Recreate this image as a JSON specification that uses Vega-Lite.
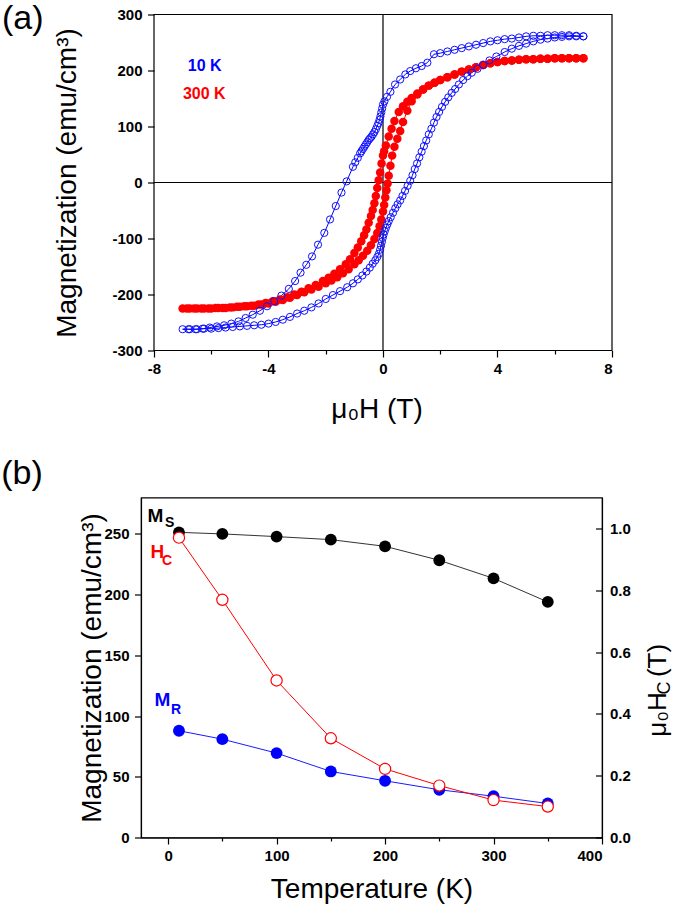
{
  "$schema": "https://vega.github.io/schema/vega-lite/v6.json",
  "padding": {"left": 0, "top": 1.5, "right": 0, "bottom": 0},
  "background": "white",
  "config": {
    "font": "Liberation Sans",
    "view": {"stroke": "black", "strokeWidth": 1.2},
    "axis": {
      "grid": false,
      "domainColor": "black",
      "domainWidth": 1.2,
      "tickColor": "black",
      "tickWidth": 1.2,
      "labelColor": "black",
      "labelFont": "Liberation Sans",
      "labelFontWeight": "bold",
      "labelFontSize": 15,
      "titleFont": "Liberation Sans",
      "titleFontWeight": "normal",
      "titleFontSize": 28,
      "titleColor": "black"
    }
  },
  "datasets": {
    "loop": [
      {"s":"300 K","H":7.0,"M":222},{"s":"300 K","H":6.75,"M":222},{"s":"300 K","H":6.5,"M":222},{"s":"300 K","H":6.25,"M":222},{"s":"300 K","H":6.0,"M":222},{"s":"300 K","H":5.75,"M":221},{"s":"300 K","H":5.5,"M":221},{"s":"300 K","H":5.25,"M":220},{"s":"300 K","H":5.0,"M":220},{"s":"300 K","H":4.75,"M":219},{"s":"300 K","H":4.5,"M":218},{"s":"300 K","H":4.25,"M":217},{"s":"300 K","H":4.0,"M":215},{"s":"300 K","H":3.75,"M":213},{"s":"300 K","H":3.5,"M":210},{"s":"300 K","H":3.25,"M":206},{"s":"300 K","H":3.0,"M":202},{"s":"300 K","H":2.75,"M":198},{"s":"300 K","H":2.5,"M":193},{"s":"300 K","H":2.25,"M":188},{"s":"300 K","H":2.0,"M":183},{"s":"300 K","H":1.8,"M":178},{"s":"300 K","H":1.6,"M":173},{"s":"300 K","H":1.4,"M":166},{"s":"300 K","H":1.2,"M":159},{"s":"300 K","H":1.0,"M":151},{"s":"300 K","H":0.85,"M":144},{"s":"300 K","H":0.7,"M":136},{"s":"300 K","H":0.55,"M":126},{"s":"300 K","H":0.4,"M":110},{"s":"300 K","H":0.3,"M":96},{"s":"300 K","H":0.2,"M":82},{"s":"300 K","H":0.1,"M":66},{"s":"300 K","H":0.04,"M":56},{"s":"300 K","H":0.0,"M":48},{"s":"300 K","H":-0.05,"M":34},{"s":"300 K","H":-0.1,"M":18},{"s":"300 K","H":-0.15,"M":4},{"s":"300 K","H":-0.2,"M":-10},{"s":"300 K","H":-0.25,"M":-24},{"s":"300 K","H":-0.3,"M":-37},{"s":"300 K","H":-0.36,"M":-49},{"s":"300 K","H":-0.42,"M":-60},{"s":"300 K","H":-0.5,"M":-72},{"s":"300 K","H":-0.58,"M":-84},{"s":"300 K","H":-0.66,"M":-94},{"s":"300 K","H":-0.76,"M":-105},{"s":"300 K","H":-0.88,"M":-116},{"s":"300 K","H":-1.0,"M":-126},{"s":"300 K","H":-1.15,"M":-137},{"s":"300 K","H":-1.3,"M":-146},{"s":"300 K","H":-1.5,"M":-155},{"s":"300 K","H":-1.7,"M":-163},{"s":"300 K","H":-1.9,"M":-170},{"s":"300 K","H":-2.1,"M":-176},{"s":"300 K","H":-2.35,"M":-183},{"s":"300 K","H":-2.6,"M":-189},{"s":"300 K","H":-2.85,"M":-195},{"s":"300 K","H":-3.1,"M":-200},{"s":"300 K","H":-3.35,"M":-205},{"s":"300 K","H":-3.6,"M":-209},{"s":"300 K","H":-3.85,"M":-212},{"s":"300 K","H":-4.1,"M":-215},{"s":"300 K","H":-4.35,"M":-218},{"s":"300 K","H":-4.6,"M":-220},{"s":"300 K","H":-4.85,"M":-221},{"s":"300 K","H":-5.1,"M":-222},{"s":"300 K","H":-5.35,"M":-223},{"s":"300 K","H":-5.6,"M":-224},{"s":"300 K","H":-5.85,"M":-224},{"s":"300 K","H":-6.1,"M":-225},{"s":"300 K","H":-6.35,"M":-225},{"s":"300 K","H":-6.6,"M":-225},{"s":"300 K","H":-6.85,"M":-225},{"s":"300 K","H":-7.0,"M":-225},
      {"s":"300 K","H":-6.75,"M":-225},{"s":"300 K","H":-6.5,"M":-225},{"s":"300 K","H":-6.25,"M":-225},{"s":"300 K","H":-6.0,"M":-225},{"s":"300 K","H":-5.75,"M":-224},{"s":"300 K","H":-5.5,"M":-224},{"s":"300 K","H":-5.25,"M":-223},{"s":"300 K","H":-5.0,"M":-222},{"s":"300 K","H":-4.75,"M":-221},{"s":"300 K","H":-4.5,"M":-220},{"s":"300 K","H":-4.25,"M":-218},{"s":"300 K","H":-4.0,"M":-216},{"s":"300 K","H":-3.75,"M":-213},{"s":"300 K","H":-3.5,"M":-210},{"s":"300 K","H":-3.25,"M":-206},{"s":"300 K","H":-3.0,"M":-201},{"s":"300 K","H":-2.75,"M":-196},{"s":"300 K","H":-2.5,"M":-191},{"s":"300 K","H":-2.25,"M":-186},{"s":"300 K","H":-2.0,"M":-180},{"s":"300 K","H":-1.8,"M":-175},{"s":"300 K","H":-1.6,"M":-169},{"s":"300 K","H":-1.4,"M":-162},{"s":"300 K","H":-1.2,"M":-155},{"s":"300 K","H":-1.0,"M":-146},{"s":"300 K","H":-0.85,"M":-139},{"s":"300 K","H":-0.7,"M":-131},{"s":"300 K","H":-0.55,"M":-122},{"s":"300 K","H":-0.42,"M":-112},{"s":"300 K","H":-0.3,"M":-101},{"s":"300 K","H":-0.2,"M":-90},{"s":"300 K","H":-0.12,"M":-78},{"s":"300 K","H":-0.06,"M":-66},{"s":"300 K","H":0.0,"M":-52},{"s":"300 K","H":0.04,"M":-40},{"s":"300 K","H":0.08,"M":-27},{"s":"300 K","H":0.12,"M":-14},{"s":"300 K","H":0.16,"M":-2},{"s":"300 K","H":0.2,"M":12},{"s":"300 K","H":0.26,"M":30},{"s":"300 K","H":0.32,"M":48},{"s":"300 K","H":0.4,"M":64},{"s":"300 K","H":0.5,"M":78},{"s":"300 K","H":0.6,"M":92},{"s":"300 K","H":0.7,"M":108},{"s":"300 K","H":0.85,"M":128},{"s":"300 K","H":1.0,"M":145},{"s":"300 K","H":1.2,"M":157},{"s":"300 K","H":1.4,"M":166},{"s":"300 K","H":1.6,"M":173},{"s":"300 K","H":1.8,"M":178},{"s":"300 K","H":2.0,"M":183},{"s":"300 K","H":2.25,"M":188},{"s":"300 K","H":2.5,"M":193},{"s":"300 K","H":2.75,"M":198},{"s":"300 K","H":3.0,"M":202},{"s":"300 K","H":3.25,"M":206},{"s":"300 K","H":3.5,"M":210},{"s":"300 K","H":3.75,"M":213},{"s":"300 K","H":4.0,"M":215},{"s":"300 K","H":4.25,"M":217},{"s":"300 K","H":4.5,"M":218},{"s":"300 K","H":4.75,"M":219},{"s":"300 K","H":5.0,"M":220},{"s":"300 K","H":5.25,"M":220},{"s":"300 K","H":5.5,"M":221},{"s":"300 K","H":5.75,"M":221},{"s":"300 K","H":6.0,"M":222},{"s":"300 K","H":6.25,"M":222},{"s":"300 K","H":6.5,"M":222},{"s":"300 K","H":6.75,"M":222},{"s":"300 K","H":7.0,"M":222},
      {"s":"10 K","H":7.0,"M":261},{"s":"10 K","H":6.75,"M":262},{"s":"10 K","H":6.5,"M":263},{"s":"10 K","H":6.25,"M":263},{"s":"10 K","H":6.0,"M":263},{"s":"10 K","H":5.75,"M":263},{"s":"10 K","H":5.5,"M":262},{"s":"10 K","H":5.25,"M":262},{"s":"10 K","H":5.0,"M":261},{"s":"10 K","H":4.75,"M":259},{"s":"10 K","H":4.5,"M":257},{"s":"10 K","H":4.25,"M":256},{"s":"10 K","H":4.0,"M":254},{"s":"10 K","H":3.75,"M":252},{"s":"10 K","H":3.5,"M":249},{"s":"10 K","H":3.25,"M":246},{"s":"10 K","H":3.0,"M":243},{"s":"10 K","H":2.75,"M":240},{"s":"10 K","H":2.5,"M":237},{"s":"10 K","H":2.25,"M":234},{"s":"10 K","H":2.0,"M":231},{"s":"10 K","H":1.78,"M":229},{"s":"10 K","H":1.55,"M":214},{"s":"10 K","H":1.35,"M":208},{"s":"10 K","H":1.15,"M":204},{"s":"10 K","H":0.95,"M":199},{"s":"10 K","H":0.78,"M":193},{"s":"10 K","H":0.6,"M":184},{"s":"10 K","H":0.42,"M":175},{"s":"10 K","H":0.26,"M":162},{"s":"10 K","H":0.14,"M":153},{"s":"10 K","H":0.05,"M":145},{"s":"10 K","H":0.0,"M":139},{"s":"10 K","H":-0.03,"M":132},{"s":"10 K","H":-0.06,"M":125},{"s":"10 K","H":-0.09,"M":118},{"s":"10 K","H":-0.12,"M":112},{"s":"10 K","H":-0.16,"M":106},{"s":"10 K","H":-0.2,"M":101},{"s":"10 K","H":-0.25,"M":95},{"s":"10 K","H":-0.3,"M":90},{"s":"10 K","H":-0.35,"M":86},{"s":"10 K","H":-0.4,"M":82},{"s":"10 K","H":-0.45,"M":79},{"s":"10 K","H":-0.5,"M":76},{"s":"10 K","H":-0.55,"M":72},{"s":"10 K","H":-0.6,"M":68},{"s":"10 K","H":-0.65,"M":64},{"s":"10 K","H":-0.7,"M":60},{"s":"10 K","H":-0.75,"M":56},{"s":"10 K","H":-0.8,"M":52},{"s":"10 K","H":-0.88,"M":44},{"s":"10 K","H":-0.97,"M":36},{"s":"10 K","H":-1.05,"M":28},{"s":"10 K","H":-1.27,"M":2},{"s":"10 K","H":-1.45,"M":-18},{"s":"10 K","H":-1.65,"M":-42},{"s":"10 K","H":-1.85,"M":-66},{"s":"10 K","H":-2.05,"M":-90},{"s":"10 K","H":-2.27,"M":-111},{"s":"10 K","H":-2.48,"M":-132},{"s":"10 K","H":-2.68,"M":-147},{"s":"10 K","H":-2.88,"M":-161},{"s":"10 K","H":-3.07,"M":-176},{"s":"10 K","H":-3.29,"M":-190},{"s":"10 K","H":-3.55,"M":-202},{"s":"10 K","H":-3.8,"M":-212},{"s":"10 K","H":-4.05,"M":-221},{"s":"10 K","H":-4.3,"M":-229},{"s":"10 K","H":-4.55,"M":-236},{"s":"10 K","H":-4.8,"M":-242},{"s":"10 K","H":-5.05,"M":-248},{"s":"10 K","H":-5.3,"M":-252},{"s":"10 K","H":-5.55,"M":-255},{"s":"10 K","H":-5.8,"M":-257},{"s":"10 K","H":-6.05,"M":-259},{"s":"10 K","H":-6.3,"M":-261},{"s":"10 K","H":-6.55,"M":-262},{"s":"10 K","H":-6.8,"M":-262},{"s":"10 K","H":-7.0,"M":-262},
      {"s":"10 K","H":-6.75,"M":-262},{"s":"10 K","H":-6.5,"M":-262},{"s":"10 K","H":-6.25,"M":-261},{"s":"10 K","H":-6.0,"M":-261},{"s":"10 K","H":-5.75,"M":-260},{"s":"10 K","H":-5.5,"M":-259},{"s":"10 K","H":-5.25,"M":-258},{"s":"10 K","H":-5.0,"M":-257},{"s":"10 K","H":-4.75,"M":-256},{"s":"10 K","H":-4.5,"M":-255},{"s":"10 K","H":-4.25,"M":-254},{"s":"10 K","H":-4.0,"M":-252},{"s":"10 K","H":-3.75,"M":-249},{"s":"10 K","H":-3.5,"M":-245},{"s":"10 K","H":-3.25,"M":-240},{"s":"10 K","H":-3.0,"M":-234},{"s":"10 K","H":-2.75,"M":-229},{"s":"10 K","H":-2.5,"M":-223},{"s":"10 K","H":-2.25,"M":-216},{"s":"10 K","H":-2.0,"M":-208},{"s":"10 K","H":-1.75,"M":-201},{"s":"10 K","H":-1.5,"M":-194},{"s":"10 K","H":-1.25,"M":-187},{"s":"10 K","H":-1.05,"M":-180},{"s":"10 K","H":-0.88,"M":-173},{"s":"10 K","H":-0.72,"M":-166},{"s":"10 K","H":-0.58,"M":-159},{"s":"10 K","H":-0.46,"M":-152},{"s":"10 K","H":-0.36,"M":-145},{"s":"10 K","H":-0.27,"M":-139},{"s":"10 K","H":-0.2,"M":-133},{"s":"10 K","H":-0.14,"M":-127},{"s":"10 K","H":-0.1,"M":-120},{"s":"10 K","H":-0.07,"M":-113},{"s":"10 K","H":-0.04,"M":-106},{"s":"10 K","H":-0.01,"M":-99},{"s":"10 K","H":0.02,"M":-93},{"s":"10 K","H":0.06,"M":-87},{"s":"10 K","H":0.1,"M":-81},{"s":"10 K","H":0.15,"M":-75},{"s":"10 K","H":0.2,"M":-69},{"s":"10 K","H":0.27,"M":-62},{"s":"10 K","H":0.35,"M":-54},{"s":"10 K","H":0.43,"M":-46},{"s":"10 K","H":0.51,"M":-39},{"s":"10 K","H":0.6,"M":-32},{"s":"10 K","H":0.68,"M":-24},{"s":"10 K","H":0.77,"M":-15},{"s":"10 K","H":0.86,"M":-6},{"s":"10 K","H":0.95,"M":3},{"s":"10 K","H":1.03,"M":13},{"s":"10 K","H":1.11,"M":24},{"s":"10 K","H":1.19,"M":34},{"s":"10 K","H":1.27,"M":45},{"s":"10 K","H":1.35,"M":55},{"s":"10 K","H":1.43,"M":65},{"s":"10 K","H":1.51,"M":75},{"s":"10 K","H":1.6,"M":86},{"s":"10 K","H":1.69,"M":96},{"s":"10 K","H":1.78,"M":107},{"s":"10 K","H":1.87,"M":117},{"s":"10 K","H":1.96,"M":126},{"s":"10 K","H":2.06,"M":135},{"s":"10 K","H":2.17,"M":144},{"s":"10 K","H":2.28,"M":152},{"s":"10 K","H":2.4,"M":160},{"s":"10 K","H":2.52,"M":167},{"s":"10 K","H":2.65,"M":175},{"s":"10 K","H":2.8,"M":183},{"s":"10 K","H":2.95,"M":190},{"s":"10 K","H":3.1,"M":196},{"s":"10 K","H":3.3,"M":203},{"s":"10 K","H":3.5,"M":210},{"s":"10 K","H":3.72,"M":218},{"s":"10 K","H":3.96,"M":225},{"s":"10 K","H":4.25,"M":233},{"s":"10 K","H":4.5,"M":239},{"s":"10 K","H":4.75,"M":244},{"s":"10 K","H":5.0,"M":248},{"s":"10 K","H":5.25,"M":252},{"s":"10 K","H":5.5,"M":255},{"s":"10 K","H":5.75,"M":257},{"s":"10 K","H":6.0,"M":259},{"s":"10 K","H":6.25,"M":260},{"s":"10 K","H":6.5,"M":261},{"s":"10 K","H":6.75,"M":261},{"s":"10 K","H":7.0,"M":261}
    ],
    "temp": [
      {"T":10,"Ms":251.3,"Mr":87.9,"Hc":0.970},
      {"T":50,"Ms":250.0,"Mr":81.0,"Hc":0.769},
      {"T":100,"Ms":247.8,"Mr":69.5,"Hc":0.508},
      {"T":150,"Ms":245.3,"Mr":54.4,"Hc":0.321},
      {"T":200,"Ms":239.8,"Mr":46.7,"Hc":0.222},
      {"T":250,"Ms":228.3,"Mr":39.3,"Hc":0.168},
      {"T":300,"Ms":213.4,"Mr":34.0,"Hc":0.121},
      {"T":350,"Ms":194.0,"Mr":28.0,"Hc":0.100}
    ]
  },
  "resolve": {"scale": {"color": "independent"}},
  "concat": [
    {
      "width": 471,
      "height": 336,
      "view": {"stroke": null},
      "layer": [
        {
          "data": {"values": [{"H": 0}]},
          "mark": {"type": "rule", "color": "black", "strokeWidth": 1.2},
          "encoding": {
            "x": {"field": "H", "type": "quantitative", "scale": {"domain": [-8.454, 8], "nice": false},
              "title": "μ₀H (T)",
              "axis": {"values": [-8,-6,-4,-2,0,2,4,6,8], "domain": false, "labelExpr": "datum.value % 4 === 0 ? '' + datum.value : ''",
                "tickSize": {"condition": {"test": "datum.value % 4 !== 0", "value": 3.5}, "value": 6.5},
                "labelPadding": 4, "titlePadding": 19}}
          }
        },
        {
          "data": {"values": [{"M": 0, "Ha": -8, "Hb": 8}]},
          "mark": {"type": "rule", "color": "black", "strokeWidth": 1.2},
          "encoding": {
            "x": {"field": "Ha", "type": "quantitative", "scale": {"domain": [-8.454, 8], "nice": false}, "title": "μ₀H (T)"},
            "x2": {"field": "Hb"},
            "y": {"field": "M", "type": "quantitative", "scale": {"domain": [-300, 300], "nice": false},
              "title": "Magnetization (emu/cm³)",
              "axis": {"values": [-300,-250,-200,-150,-100,-50,0,50,100,150,200,250,300], "domain": false, "offset": -13, "labelExpr": "datum.value % 100 === 0 ? '' + datum.value : ''",
                "tickSize": {"condition": {"test": "datum.value % 100 !== 0", "value": 3.5}, "value": 6.5},
                "labelPadding": 5.5, "titlePadding": 30}}
          }
        },
        {
          "data": {"name": "loop"},
          "mark": {"type": "line", "strokeWidth": 1},
          "encoding": {
            "x": {"field": "H", "type": "quantitative", "scale": {"domain": [-8.454, 8], "nice": false}, "title": "μ₀H (T)"},
            "y": {"field": "M", "type": "quantitative", "scale": {"domain": [-300, 300], "nice": false}, "title": "Magnetization (emu/cm³)"},
            "color": {"field": "s", "type": "nominal", "scale": {"domain": ["10 K", "300 K"], "range": ["#0000ff", "#ff0000"]}, "legend": null},
            "order": {"value": null}
          }
        },
        {
          "data": {"name": "loop"},
          "transform": [{"filter": "datum.s === '300 K'"}],
          "mark": {"type": "point", "shape": "circle", "filled": true, "size": 72, "color": "#ff0000", "opacity": 1},
          "encoding": {
            "x": {"field": "H", "type": "quantitative", "scale": {"domain": [-8.454, 8], "nice": false}, "title": "μ₀H (T)"},
            "y": {"field": "M", "type": "quantitative", "scale": {"domain": [-300, 300], "nice": false}, "title": "Magnetization (emu/cm³)"}
          }
        },
        {
          "data": {"name": "loop"},
          "transform": [{"filter": "datum.s === '10 K'"}],
          "mark": {"type": "point", "shape": "circle", "filled": false, "size": 52, "color": "#1010ff", "strokeWidth": 1, "opacity": 1},
          "encoding": {
            "x": {"field": "H", "type": "quantitative", "scale": {"domain": [-8.454, 8], "nice": false}, "title": "μ₀H (T)"},
            "y": {"field": "M", "type": "quantitative", "scale": {"domain": [-300, 300], "nice": false}, "title": "Magnetization (emu/cm³)"}
          }
        },
        {
          "data": {"values": [{"lab": "10 K", "H": -6.82, "M": 200}, {"lab": "300 K", "H": -6.99, "M": 149}]},
          "mark": {"type": "text", "fontWeight": "bold", "fontSize": 16, "align": "left", "baseline": "alphabetic"},
          "encoding": {
            "x": {"field": "H", "type": "quantitative", "scale": {"domain": [-8.454, 8], "nice": false}, "title": "μ₀H (T)"},
            "y": {"field": "M", "type": "quantitative", "scale": {"domain": [-300, 300], "nice": false}, "title": "Magnetization (emu/cm³)"},
            "text": {"field": "lab"},
            "color": {"field": "lab", "type": "nominal", "scale": {"domain": ["10 K", "300 K"], "range": ["#0000ff", "#ff0000"]}, "legend": null}
          }
        },
        {
          "data": {"values": [{"lab": "(a)", "H": -13.31, "M": 274}]},
          "mark": {"type": "text", "fontSize": 34, "align": "left", "baseline": "alphabetic", "color": "black", "font": "Liberation Sans"},
          "encoding": {
            "x": {"field": "H", "type": "quantitative", "scale": {"domain": [-8.454, 8], "nice": false}, "title": "μ₀H (T)"},
            "y": {"field": "M", "type": "quantitative", "scale": {"domain": [-300, 300], "nice": false}, "title": "Magnetization (emu/cm³)"},
            "text": {"field": "lab"}
          }
        },
        {
          "data": {"values": [{"Ha": -8, "Hb": 8, "Ma": -300, "Mb": 300}]},
          "mark": {"type": "rect", "filled": false, "color": "black", "strokeWidth": 1.2},
          "encoding": {
            "x": {"field": "Ha", "type": "quantitative", "scale": {"domain": [-8.454, 8], "nice": false}, "title": "μ₀H (T)"},
            "x2": {"field": "Hb"},
            "y": {"field": "Ma", "type": "quantitative", "scale": {"domain": [-300, 300], "nice": false}, "title": "Magnetization (emu/cm³)"},
            "y2": {"field": "Mb"}
          }
        }
      ]
    },
    {
      "width": 461,
      "height": 340,
      "resolve": {"scale": {"y": "independent"}, "axis": {"y": "independent"}},
      "layer": [
        {
          "layer": [
            {
              "data": {"name": "temp"},
              "mark": {"type": "line", "color": "#333333", "strokeWidth": 1},
              "encoding": {
                "x": {"field": "T", "type": "quantitative", "scale": {"domain": [-25, 400], "nice": false}, "title": "Temperature (K)",
                  "axis": {"values": [0,50,100,150,200,250,300,350,400], "labelExpr": "datum.value % 100 === 0 ? '' + datum.value : ''",
                    "tickSize": {"condition": {"test": "datum.value % 100 !== 0", "value": 3.5}, "value": 6.5},
                    "labelPadding": 4, "titlePadding": 12}},
                "y": {"field": "Ms", "type": "quantitative", "scale": {"domain": [0, 280], "nice": false}, "title": "Magnetization (emu/cm³)",
                  "axis": {"values": [0,25,50,75,100,125,150,175,200,225,250,275], "labelExpr": "datum.value % 50 === 0 ? '' + datum.value : ''",
                    "tickSize": {"condition": {"test": "datum.value % 50 !== 0", "value": 3.5}, "value": 6.5},
                    "labelPadding": 5.5, "titlePadding": -3}}
              }
            },
            {
              "data": {"name": "temp"},
              "mark": {"type": "line", "color": "#1a1aff", "strokeWidth": 1},
              "encoding": {
                "x": {"field": "T", "type": "quantitative", "scale": {"domain": [-25, 400], "nice": false}, "title": "Temperature (K)"},
                "y": {"field": "Mr", "type": "quantitative", "scale": {"domain": [0, 280], "nice": false}, "title": "Magnetization (emu/cm³)"}
              }
            },
            {
              "data": {"name": "temp"},
              "mark": {"type": "point", "shape": "circle", "filled": true, "size": 140, "color": "black", "opacity": 1},
              "encoding": {
                "x": {"field": "T", "type": "quantitative", "scale": {"domain": [-25, 400], "nice": false}, "title": "Temperature (K)"},
                "y": {"field": "Ms", "type": "quantitative", "scale": {"domain": [0, 280], "nice": false}, "title": "Magnetization (emu/cm³)"}
              }
            },
            {
              "data": {"name": "temp"},
              "mark": {"type": "point", "shape": "circle", "filled": true, "size": 140, "color": "#0000ff", "opacity": 1},
              "encoding": {
                "x": {"field": "T", "type": "quantitative", "scale": {"domain": [-25, 400], "nice": false}, "title": "Temperature (K)"},
                "y": {"field": "Mr", "type": "quantitative", "scale": {"domain": [0, 280], "nice": false}, "title": "Magnetization (emu/cm³)"}
              }
            },
            {
              "data": {"values": [{"t": "M", "T": -19.1, "v": 260.1, "c": "MS"}, {"t": "H", "T": -16.3, "v": 230.5, "c": "HC"}, {"t": "M", "T": -12.6, "v": 108.5, "c": "MR"}]},
              "mark": {"type": "text", "fontWeight": "bold", "fontSize": 19, "align": "left", "baseline": "alphabetic"},
              "encoding": {
                "x": {"field": "T", "type": "quantitative", "scale": {"domain": [-25, 400], "nice": false}, "title": "Temperature (K)"},
                "y": {"field": "v", "type": "quantitative", "scale": {"domain": [0, 280], "nice": false}, "title": "Magnetization (emu/cm³)"},
                "text": {"field": "t"},
                "color": {"field": "c", "type": "nominal", "scale": {"domain": ["MS", "HC", "MR"], "range": ["black", "#ff0000", "#0000ff"]}, "legend": null}
              }
            },
            {
              "data": {"values": [{"t": "S", "T": -2.95, "v": 256, "c": "MS"}, {"t": "C", "T": -5.7, "v": 224.7, "c": "HC"}, {"t": "R", "T": 2.6, "v": 101.9, "c": "MR"}]},
              "mark": {"type": "text", "fontWeight": "bold", "fontSize": 14, "align": "left", "baseline": "alphabetic"},
              "encoding": {
                "x": {"field": "T", "type": "quantitative", "scale": {"domain": [-25, 400], "nice": false}, "title": "Temperature (K)"},
                "y": {"field": "v", "type": "quantitative", "scale": {"domain": [0, 280], "nice": false}, "title": "Magnetization (emu/cm³)"},
                "text": {"field": "t"},
                "color": {"field": "c", "type": "nominal", "scale": {"domain": ["MS", "HC", "MR"], "range": ["black", "#ff0000", "#0000ff"]}, "legend": null}
              }
            },
            {
              "data": {"values": [{"t": "(b)", "T": -153.9, "v": 291}]},
              "mark": {"type": "text", "fontSize": 34, "align": "left", "baseline": "alphabetic", "color": "black"},
              "encoding": {
                "x": {"field": "T", "type": "quantitative", "scale": {"domain": [-25, 400], "nice": false}, "title": "Temperature (K)"},
                "y": {"field": "v", "type": "quantitative", "scale": {"domain": [0, 280], "nice": false}, "title": "Magnetization (emu/cm³)"},
                "text": {"field": "t"}
              }
            }
          ]
        },
        {
          "layer": [
            {
              "data": {"name": "temp"},
              "mark": {"type": "line", "color": "#ff0000", "strokeWidth": 1},
              "encoding": {
                "x": {"field": "T", "type": "quantitative", "scale": {"domain": [-25, 400], "nice": false}, "title": "Temperature (K)"},
                "y": {"field": "Hc", "type": "quantitative", "scale": {"domain": [0, 1.1], "nice": false}, "title": null,
                  "axis": {"orient": "right", "values": [0,0.1,0.2,0.3,0.4,0.5,0.6,0.7,0.8,0.9,1.0],
                    "labelExpr": "round(datum.value*10) % 2 === 0 ? format(datum.value, '.1f') : ''",
                    "tickSize": {"condition": {"test": "round(datum.value*10) % 2 === 1", "value": -3.5}, "value": -6.5},
                    "labelPadding": 14}}
              }
            },
            {
              "data": {"name": "temp"},
              "mark": {"type": "point", "shape": "circle", "filled": true, "fill": "white", "stroke": "#ff0000", "strokeWidth": 1.2, "size": 125, "opacity": 1},
              "encoding": {
                "x": {"field": "T", "type": "quantitative", "scale": {"domain": [-25, 400], "nice": false}, "title": "Temperature (K)"},
                "y": {"field": "Hc", "type": "quantitative", "scale": {"domain": [0, 1.1], "nice": false}, "title": null}
              }
            },
            {
              "data": {"values": [{"t": "μ₀H", "T": 459.1, "v": 0.326}, {"t": "(T)", "T": 459.1, "v": 0.519}]},
              "mark": {"type": "text", "fontSize": 26, "angle": 270, "align": "left", "baseline": "alphabetic", "color": "black"},
              "encoding": {
                "x": {"field": "T", "type": "quantitative", "scale": {"domain": [-25, 400], "nice": false}, "title": "Temperature (K)"},
                "y": {"field": "v", "type": "quantitative", "scale": {"domain": [0, 1.1], "nice": false}, "title": null},
                "text": {"field": "t"}
              }
            },
            {
              "data": {"values": [{"t": "C", "T": 462.8, "v": 0.463}]},
              "mark": {"type": "text", "fontSize": 18, "angle": 270, "align": "left", "baseline": "alphabetic", "color": "black"},
              "encoding": {
                "x": {"field": "T", "type": "quantitative", "scale": {"domain": [-25, 400], "nice": false}, "title": "Temperature (K)"},
                "y": {"field": "v", "type": "quantitative", "scale": {"domain": [0, 1.1], "nice": false}, "title": null},
                "text": {"field": "t"}
              }
            }
          ]
        }
      ]
    }
  ],
  "columns": 1,
  "spacing": 33
}
